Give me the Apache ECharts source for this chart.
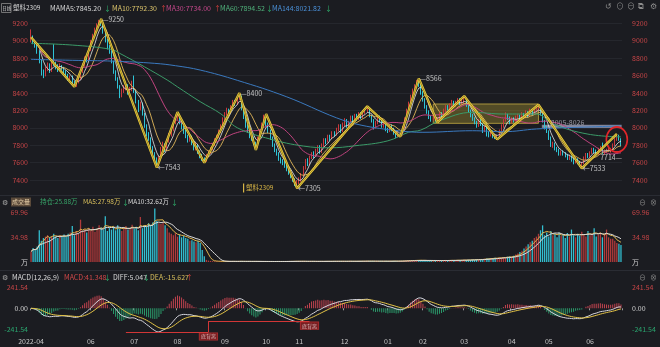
<!DOCTYPE html>
<html>
<head>
<meta charset="utf-8">
<script src="https://cdn.jsdelivr.net/npm/echarts@6/dist/echarts.min.js"></script>
<style>
html,body{margin:0;padding:0;background:#1b1c21;overflow:hidden;}
#chart{width:660px;height:347px;}
</style>
</head>
<body>
<div id="chart"></div>
<script>
// ================= DATA =================
const months = ['2022-04','2022-05','2022-06','2022-07','2022-08','2022-09','2022-10','2022-11','2022-12','2023-01','2023-02','2023-03','2023-04','2023-05','2023-06'];
const monthDays = [10,19,21,21,23,20,16,22,21,17,20,23,18,20,16];
const monthTickLabels = ['2022-04','','06','07','08','09','10','11','12','01','02','03','04','05','06'];

// daily candles: [open, close, low, high]
const candles = [
[9000,9040,8980,9130],[9040,8990,8960,9060],[8990,8950,8920,9010],[8950,8870,8850,8970],[8870,8760,8740,8890],[8760,8640,8600,8780],[8640,8600,8570,8670],[8600,8680,8590,8700],[8680,8720,8650,8750],[8720,8650,8630,8740],
[8660,8720,8640,8760],[8880,8730,8710,8960],[8730,8700,8670,8760],[8700,8660,8640,8730],[8660,8720,8650,8740],[8700,8680,8660,8720],[8680,8640,8620,8700],[8640,8600,8580,8660],[8600,8560,8540,8620],[8560,8580,8530,8600],
[8580,8520,8500,8600],[8520,8480,8470,8540],[8480,8530,8470,8550],[8530,8560,8510,8590],[8560,8640,8550,8660],[8640,8720,8630,8740],[8720,8800,8700,8820],[8800,8780,8750,8830],[8780,8900,8770,8920],[8900,8990,8880,9010],
[8990,9050,8970,9080],[9050,9120,9030,9150],[9120,9180,9100,9200],[9180,9220,9150,9240],[9220,9200,9170,9250],[9200,9100,9080,9210],[9100,9000,8980,9120],[9000,8920,8900,9020],[8920,8880,8850,8950],[8880,8760,8740,8890],
[8760,8640,8620,8770],[8640,8560,8540,8660],[8560,8480,8450,8580],[8480,8380,8340,8490],[8380,8420,8350,8450],[8420,8460,8400,8490],[8460,8480,8430,8520],[8480,8400,8380,8500],[8400,8440,8380,8470],[8440,8500,8420,8540],
[8580,8420,8400,8600],[8420,8300,8280,8430],[8300,8220,8180,8320],[8220,8280,8200,8300],[8280,8160,8140,8290],[8160,8020,8000,8170],[8020,7920,7900,8040],[7920,7880,7850,7950],[7880,7760,7740,7890],[7760,7700,7680,7790],
[7700,7640,7600,7720],[7640,7580,7543,7660],[7580,7660,7570,7680],[7660,7760,7640,7780],[7760,7800,7740,7840],[7800,7740,7720,7820],[7740,7850,7730,7870],[7850,7920,7830,7940],[7920,7980,7900,8010],[7980,8060,7960,8080],
[8060,8120,8040,8150],[8120,8150,8090,8180],[8150,8060,8040,8160],[8060,8000,7980,8080],[8000,7960,7930,8020],[7960,7900,7880,7980],[7900,7860,7830,7920],[7860,7900,7840,7930],[7900,7820,7800,7910],[7820,7760,7740,7840],
[7760,7800,7740,7830],[7800,7720,7700,7810],[7720,7680,7650,7740],[7680,7640,7620,7700],[7640,7620,7598,7660],[7620,7680,7610,7700],[7680,7720,7660,7740],[7720,7760,7700,7780],[7760,7800,7740,7820],[7800,7860,7790,7880],
[7860,7900,7840,7920],[7900,7960,7880,7980],[7960,8020,7940,8040],[8020,8100,8000,8120],[8100,8160,8080,8180],[8160,8200,8140,8230],[8200,8180,8150,8220],[8180,8240,8170,8260],[8240,8300,8220,8320],[8300,8280,8250,8320],
[8280,8340,8260,8360],[8340,8360,8320,8400],[8360,8220,8200,8370],[8220,8120,8100,8240],[8120,8020,8000,8140],[8020,7960,7940,8040],[7960,7900,7880,7980],[7900,7880,7850,7920],[7880,7820,7800,7900],[7820,7780,7744,7840],
[7780,7880,7770,7900],[7880,7960,7860,7980],[7960,8040,7940,8060],[8040,8120,8020,8150],[8130,8040,8020,8158],[8040,7960,7940,8060],[7960,7880,7860,7980],[7880,7800,7780,7900],[7800,7740,7720,7820],[7740,7700,7680,7760],
[7700,7640,7620,7720],[7640,7620,7590,7660],[7620,7600,7570,7640],[7600,7560,7540,7620],[7560,7520,7500,7580],[7520,7480,7460,7540],[7480,7440,7420,7500],[7440,7400,7380,7460],[7400,7360,7330,7420],[7360,7380,7305,7400],
[7380,7400,7350,7430],[7400,7460,7380,7480],[7460,7540,7440,7560],[7540,7620,7520,7640],[7620,7580,7560,7650],[7580,7660,7570,7680],[7660,7700,7640,7720],[7700,7680,7650,7730],[7680,7740,7670,7760],[7740,7780,7720,7800],
[7780,7720,7700,7800],[7720,7800,7710,7820],[7800,7860,7780,7880],[7860,7840,7810,7880],[7840,7900,7830,7920],[7900,7880,7850,7920],[7880,7940,7870,7960],[7940,7920,7900,7960],[7920,7980,7910,8000],[7980,8020,7960,8040],
[8020,7960,7940,8040],[7960,8040,7950,8060],[8040,8080,8020,8110],[8080,8020,8000,8100],[8020,8060,8000,8080],[8060,8120,8050,8140],[8120,8080,8060,8140],[8080,8140,8070,8160],[8140,8100,8080,8160],[8100,8160,8090,8180],
[8160,8120,8100,8180],[8120,8180,8110,8200],[8180,8200,8160,8220],[8200,8220,8180,8246],[8220,8140,8120,8230],[8140,8080,8060,8150],[8080,8000,7980,8100],[8000,8060,7990,8080],[8060,8120,8040,8140],[8120,8080,8060,8140],
[8080,8020,8000,8100],[8020,8060,8000,8080],[8060,7980,7960,8070],[7980,7960,7940,8000],[7960,8020,7950,8040],[8020,7980,7960,8040],[7980,7940,7920,8000],[7940,7900,7880,7960],[7900,7920,7890,7950],[7920,7925,7897,7940],
[7925,8000,7910,8020],[8000,8100,7990,8120],[8100,8200,8080,8220],[8200,8280,8180,8300],[8280,8360,8260,8380],[8360,8420,8340,8450],[8420,8480,8400,8500],[8480,8520,8460,8550],[8520,8500,8470,8566],[8500,8400,8380,8510],
[8400,8320,8300,8420],[8320,8240,8220,8340],[8240,8180,8160,8260],[8180,8120,8100,8200],[8120,8100,8070,8140],[8100,8140,8080,8160],[8140,8090,8070,8150],[8090,8100,8062,8120],[8100,8160,8090,8180],[8160,8140,8120,8180],
[8140,8200,8130,8220],[8200,8240,8180,8260],[8240,8220,8200,8260],[8220,8260,8210,8280],[8260,8300,8240,8320],[8300,8250,8230,8310],[8250,8290,8240,8310],[8290,8320,8270,8340],[8320,8280,8260,8340],[8280,8300,8260,8320],
[8300,8320,8280,8365],[8320,8260,8240,8330],[8260,8200,8180,8270],[8200,8140,8120,8210],[8140,8100,8080,8160],[8100,8060,8040,8120],[8060,8020,8000,8080],[8020,8080,8010,8100],[8080,8040,8020,8100],[8040,7960,7940,8050],
[7960,8000,7950,8020],[8040,7940,7900,8050],[7940,7920,7890,7960],[7920,7960,7900,7980],[7960,7900,7880,7970],[7900,7880,7870,7920],[7880,7900,7867,7920],[7900,7960,7890,7980],[7960,8020,7950,8040],[8020,8080,8000,8100],
[8080,8140,8070,8177],[8140,8120,8090,8160],[8120,8060,8040,8130],[8060,8100,8050,8120],[8100,8080,8060,8120],[8080,8120,8070,8140],[8120,8140,8100,8160],[8140,8100,8080,8150],[8100,8160,8090,8180],[8160,8120,8100,8170],
[8120,8180,8110,8200],[8180,8140,8120,8190],[8140,8200,8130,8220],[8200,8160,8140,8210],[8160,8200,8150,8220],[8200,8220,8180,8240],[8220,8240,8200,8265],[8240,8160,8140,8250],[8160,8080,8060,8170],[8080,8000,7980,8090],
[8000,7960,7940,8020],[7960,7880,7860,7970],[7880,7800,7780,7900],[7800,7820,7770,7840],[7820,7760,7740,7830],[7760,7740,7720,7780],[7740,7700,7680,7760],[7700,7720,7680,7740],[7720,7700,7680,7740],[7700,7680,7660,7720],
[7680,7650,7630,7700],[7650,7670,7630,7690],[7670,7630,7610,7680],[7630,7600,7580,7650],[7600,7640,7590,7660],[7640,7600,7580,7650],[7600,7570,7550,7620],[7570,7590,7533,7610],[7590,7650,7580,7670],[7650,7690,7630,7710],
[7690,7670,7650,7710],[7670,7710,7660,7730],[7710,7750,7700,7770],[7750,7730,7710,7770],[7730,7700,7680,7750],[7700,7750,7690,7770],[7750,7770,7730,7790],[7790,7720,7700,7830],[7720,7720,7690,7750],[7720,7740,7710,7760],
[7740,7747,7720,7770],[7747,7750,7714,7770],[7750,7800,7740,7820],[7800,7860,7790,7880],[7860,7900,7850,7930],[7900,7866,7850,7920],[7866,7800,7790,7880]
];

// volume (万手)
const volumes = [
15,20,18,22,45,30,34,36,38,35,
37,40,36,34,38,36,39,36,40,42,
51,38,44,40,60,44,46,42,48,45,
50,43,47,52,49,46,65,44,48,46,
50,45,52,47,44,49,51,46,48,53,
47,50,45,64,48,52,50,55,53,56,
76,58,55,54,56,52,48,42,40,38,
41,36,39,35,37,34,33,30,31,29,
28,30,27,17,8,3,2,1.5,1.2,1,
0.9,0.8,1,0.7,0.9,0.8,0.6,0.9,1.1,0.8,
0.7,0.9,1.2,0.8,0.6,0.7,0.9,0.8,1,0.7,
0.6,0.8,0.7,0.9,0.6,0.5,0.7,0.8,0.6,0.9,
0.7,0.6,0.8,0.7,0.9,0.8,1,0.9,1.2,1.1,
0.9,0.8,1,0.9,0.7,0.8,0.9,1,0.8,0.7,
0.9,1,0.8,1.1,0.9,0.8,1,1.2,0.9,1,
0.8,1.1,1,0.9,1.2,1,0.8,1.1,0.9,1.3,
1,1.2,1.1,1.4,1.2,1,1.1,0.9,1.2,1,
1.1,0.9,1.3,1,1.2,1.1,1.4,1.2,1,1.3,
1.5,1.8,2,2.2,1.9,2.4,2.1,2.6,2.8,2.3,
1.9,2,1.8,2.2,1.7,1.9,2.1,2.3,2,1.8,
2.2,2.4,2,2.6,2.3,2.1,2.5,2.8,2.4,2.6,
3,2.7,3.2,2.9,3.5,3.1,3.8,3.4,4,3.6,
4.5,5.2,4.8,5.5,5,6,5.6,6.5,6,7,
6.5,7.5,8,7.2,9,10.5,12,14,16,19,
22,25,28,30,34,36,40,45,52,38,
42,36,44,38,40,35,42,37,39,34,
41,36,46,38,35,40,37,43,39,36,
44,38,40,48,36,39,42,35,40,46,
35,33,33,30,27,26,24
];

// long moving averages at sample days [dayIndex, value]
const ma60Points = [[0,8970],[20,8950],[39,8900],[43,8855],[55,8700],[66,8549],[71,8470],[82,8300],[92,8160],[100,8000],[116,7870],[132,7790],[145,7770],[157,7793],[173,7850],[183,7948],[189,7974],[198,8081],[214,8177],[229,8158],[245,8158],[253,8043],[270,7927],[286,7895]];
const ma144Points = [[0,8786],[20,8775],[40,8765],[60,8740],[70,8713],[82,8663],[100,8545],[124,8355],[148,8115],[160,8030],[178,7966],[190,7948],[214,7966],[229,7955],[245,7986],[265,8005],[286,8020]];

// swing (zigzag) pivots [dayIndex, price]
const zigzagPivots = [[0,9040],[21,8470],[34,9250],[61,7543],[71,8180],[84,7598],[101,8400],[109,7744],[114,8158],[129,7305],[163,8246],[179,7897],[188,8566],[197,8062],[210,8365],[226,7867],[246,8265],[267,7533],[284,7930]];
// labelled extremes [dayIndex, price]
const extremeMarks = [[34,9250],[61,7543],[101,8400],[129,7305],[188,8566],[267,7533],[286,7714]];
const extremeKinds = ['high','low','high','low','high','low','lowLeft'];

// drawn zones: [fromDay, toDay, upperPrice, lowerPrice]
const boxZone = [195, 246, 8273, 8051];
const bandZone = [248, 286, 8026, 8005];
const bandText = '8005-8026';
const circleMark = [284, 7865];

// MACD divergence guides [fromDay, toDay, level] and their tags
const divergenceLines = [[46, 86, -278], [86, 135, -150]];
const divergenceTags = [[86, -278, '底背离'], [135, -150, '底背离']];

const volumeTicks = [0, 34.98, 69.96];
const macdTicks = [-241.54, 0, 241.54];

// ================= BUILD =================
const FONT = '"Noto Sans CJK SC","Noto Sans",sans-serif';
const categories = [];
const monthOfIdx = [];
months.forEach((m, k) => {
  for (let d = 0; d < monthDays[k]; d++) { categories.push(m + '#' + (d + 1)); monthOfIdx.push(k); }
});
const N = categories.length;
const isMonthLabel = (idx) => categories[idx].endsWith('#1') && monthTickLabels[monthOfIdx[idx]] !== '';

const closes = candles.map(c => c[1]);
function ma(arr, n) {
  return arr.map((_, i) => {
    const s = Math.max(0, i - n + 1); let sum = 0;
    for (let j = s; j <= i; j++) sum += arr[j];
    return +(sum / (i - s + 1)).toFixed(2);
  });
}
function sparse(points) { const a = new Array(N).fill(null); points.forEach(([i, v]) => { a[i] = v; }); return a; }
function ema(arr, n) { const k = 2 / (n + 1); const out = []; arr.forEach((v, i) => out.push(i === 0 ? v : out[i - 1] + k * (v - out[i - 1]))); return out; }
const e12 = ema(closes, 12), e26 = ema(closes, 26);
const dif = closes.map((_, i) => +(e12[i] - e26[i]).toFixed(3));
const dea = ema(dif, 9).map(v => +v.toFixed(3));
const hist = dif.map((d, i) => +(2 * (d - dea[i])).toFixed(3));

const UP = '#c9383c', DOWN = '#2fc4d6';

const gridL = 30, gridR = 38;
const grids = [
  { left: gridL, right: gridR, top: 23.3, height: 156.7 },
  { left: gridL, right: gridR, top: 207, height: 59.7 },
  { left: gridL, right: gridR, top: 283, height: 52 }
];
const xAxes = [0, 1, 2].map(g => ({
  type: 'category', gridIndex: g, data: categories, boundaryGap: true,
  axisLine: { show: false },
  axisTick: g === 2 ? { show: true, interval: (i) => isMonthLabel(i), length: 2, lineStyle: { color: '#9a9a9a' } } : { show: false },
  axisLabel: g === 2 ? {
    show: true, interval: (i) => isMonthLabel(i), margin: 3, fontSize: 7, color: '#c4c4c4', fontFamily: FONT,
    formatter: (v) => monthTickLabels[months.indexOf(v.split('#')[0])]
  } : { show: false },
  splitLine: { show: false }
}));

const priceLabelColor = '#c24446';
const yAxes = [
  { gridIndex: 0, position: 'left', type: 'value', min: 7400, max: 9200, interval: 200,
    axisLine: { show: false }, axisTick: { show: false },
    axisLabel: { color: priceLabelColor, fontSize: 7, margin: 2, fontFamily: FONT, formatter: v => String(v) },
    splitLine: { show: true, lineStyle: { color: '#25272d', width: 1 } } },
  { gridIndex: 0, position: 'right', type: 'value', min: 7400, max: 9200, interval: 200,
    axisLine: { show: false }, axisTick: { show: false },
    axisLabel: { color: priceLabelColor, fontSize: 7, margin: 10, fontFamily: FONT, formatter: v => String(v) },
    splitLine: { show: false } },
  { gridIndex: 1, position: 'left', type: 'value', min: -6.7, max: 78.05,
    axisLine: { show: false }, axisTick: { show: false, customValues: volumeTicks },
    axisLabel: { customValues: volumeTicks, fontSize: 7, margin: 2, fontFamily: FONT,
      formatter: v => Math.abs(v) < 1e-6 ? '万' : v.toFixed(2),
      color: v => Math.abs(v) < 1e-6 ? '#d0d0d0' : '#c24446' },
    splitLine: { show: false } },
  { gridIndex: 1, position: 'right', type: 'value', min: -6.7, max: 78.05,
    axisLine: { show: false }, axisTick: { show: false, customValues: volumeTicks },
    axisLabel: { customValues: volumeTicks, fontSize: 7, margin: 10, fontFamily: FONT,
      formatter: v => Math.abs(v) < 1e-6 ? '万' : v.toFixed(2),
      color: v => Math.abs(v) < 1e-6 ? '#d0d0d0' : '#c24446' },
    splitLine: { show: false } },
  { gridIndex: 2, position: 'left', type: 'value', min: -313, max: 296.6,
    axisLine: { show: false }, axisTick: { show: false, customValues: macdTicks },
    axisLabel: { customValues: macdTicks, fontSize: 7, margin: 2, fontFamily: FONT,
      formatter: v => v.toFixed(2),
      color: v => v > 1 ? '#c24446' : (v < -1 ? '#2aa56f' : '#d0d0d0') },
    splitLine: { show: false } },
  { gridIndex: 2, position: 'right', type: 'value', min: -313, max: 296.6,
    axisLine: { show: false }, axisTick: { show: false, customValues: macdTicks },
    axisLabel: { customValues: macdTicks, fontSize: 7, margin: 10, fontFamily: FONT,
      formatter: v => v.toFixed(2),
      color: v => v > 1 ? '#c24446' : (v < -1 ? '#2aa56f' : '#d0d0d0') },
    splitLine: { show: false } }
];

const lineBase = (name, data, color, xi, yi, extra) => Object.assign({
  name, type: 'line', data, xAxisIndex: xi, yAxisIndex: yi, symbol: 'none', showSymbol: false,
  lineStyle: { color, width: 1 }, silent: true, clip: false, z: 3
}, extra || {});

const zig = sparse(zigzagPivots);

const series = [
  {
    name: 'K', type: 'candlestick', data: candles, xAxisIndex: 0, yAxisIndex: 0, clip: false, barMaxWidth: 1.6,
    itemStyle: { color: UP, color0: DOWN, borderColor: UP, borderColor0: DOWN, borderWidth: 1 },
    markArea: {
      silent: true,
      data: [
        [{ xAxis: categories[boxZone[0]], yAxis: boxZone[2], itemStyle: { color: 'rgba(150,132,45,0.45)', borderColor: '#a8943c', borderWidth: 1 } },
         { xAxis: categories[boxZone[1]], yAxis: boxZone[3] }],
        [{ xAxis: categories[bandZone[0]], yAxis: bandZone[2], itemStyle: { color: 'rgba(175,178,205,0.55)', borderColor: 'rgba(175,178,205,0.6)', borderWidth: 1.5 } },
         { xAxis: categories[bandZone[1]], yAxis: bandZone[3] }]
      ]
    },
    markPoint: {
      silent: true,
      data: [{ coord: [categories[circleMark[0]], circleMark[1]], symbol: 'circle', symbolSize: [21, 25],
        itemStyle: { color: 'rgba(0,0,0,0)', borderColor: '#e0262a', borderWidth: 1.8 }, label: { show: false } }]
    },
    z: 2
  },
  lineBase('MA5', ma(closes, 5), '#e8e8e8', 0, 0, { lineStyle: { color: '#e8e8e8', width: 0.8 } }),
  lineBase('MA10', ma(closes, 10), '#e2b85a', 0, 0, { lineStyle: { color: '#e2b85a', width: 0.9 } }),
  lineBase('MA30', ma(closes, 30), '#c0437f', 0, 0),
  lineBase('MA60', sparse(ma60Points), '#3b9a68', 0, 0, { connectNulls: true, smooth: 0.4 }),
  lineBase('MA144', sparse(ma144Points), '#3a79bf', 0, 0, { connectNulls: true, smooth: 0.4 }),
  lineBase('zigzag', zig, '#f2d23c', 0, 0, { connectNulls: true, lineStyle: { color: '#f2d23c', width: 2.3 }, z: 5 }),
  lineBase('zigzagCore', zig, '#55481c', 0, 0, { connectNulls: true, lineStyle: { color: '#6a5a1e', width: 0.6 }, z: 6 }),
  {
    name: 'marks', type: 'scatter', xAxisIndex: 0, yAxisIndex: 0, symbolSize: 0, clip: false, silent: true, z: 7,
    data: extremeMarks.map(([i, v], k) => ({
      value: [i, v],
      label: {
        show: true, fontSize: 7, color: '#e6e6e6', fontFamily: FONT,
        position: extremeKinds[k] === 'lowLeft' ? 'left' : 'right', distance: 1,
        offset: extremeKinds[k] === 'lowLeft' ? [2, 5] : [0, 0],
        formatter: extremeKinds[k] === 'high' ? '—' + v : (extremeKinds[k] === 'low' ? '←' + v : v + '—')
      }
    })).concat([{
      value: [bandZone[0] + 4, bandZone[2] + 40],
      label: { show: true, fontSize: 7, color: '#b4b4c0', position: 'right', distance: 0, fontFamily: FONT, formatter: bandText }
    }])
  },
  {
    name: 'VOL', type: 'bar', data: volumes, xAxisIndex: 1, yAxisIndex: 2, barWidth: '62%', clip: false, silent: true,
    itemStyle: { color: (p) => candles[p.dataIndex][1] >= candles[p.dataIndex][0] ? '#b13a3b' : '#33bfd1' }
  },
  lineBase('VMA5', ma(volumes, 5), '#e0b54c', 1, 2),
  lineBase('VMA10', ma(volumes, 10), '#dcdcdc', 1, 2),
  {
    name: 'MACD', type: 'bar', data: hist, xAxisIndex: 2, yAxisIndex: 4, barWidth: 1, clip: false, silent: true,
    itemStyle: { color: (p) => p.value >= 0 ? '#c2434f' : '#2b9a6b' }
  },
  lineBase('DIFF', dif, '#d6d6de', 2, 4, {
    markLine: {
      silent: true, symbol: 'none', label: { show: false },
      lineStyle: { color: '#d23636', width: 1, type: 'solid' },
      data: [
        [{ coord: [categories[divergenceLines[0][0]], divergenceLines[0][2]] }, { coord: [categories[divergenceLines[0][1]], divergenceLines[0][2]] }],
        [{ coord: [categories[divergenceLines[0][1]], divergenceLines[0][2]] }, { coord: [categories[divergenceLines[1][0]], divergenceLines[1][2]] }],
        [{ coord: [categories[divergenceLines[1][0]], divergenceLines[1][2]] }, { coord: [categories[divergenceLines[1][1]], divergenceLines[1][2]] }]
      ]
    }
  }),
  lineBase('DEA', dea, '#e2c246', 2, 4),
  {
    name: 'divTags', type: 'scatter', xAxisIndex: 2, yAxisIndex: 4, symbolSize: 0, clip: false, silent: true, z: 8,
    data: divergenceTags.map(([i, v, t]) => ({
      value: [i, v],
      label: { show: true, position: 'bottom', distance: 1, formatter: t, fontSize: 5, color: '#f0d0d0', fontFamily: FONT,
        backgroundColor: '#8c1f22', borderColor: '#d23636', borderWidth: 0.6, padding: [1, 1.5] }
    }))
  }
];

// ---------- header / decorations ----------
function txt(x, y, text, color, size) {
  return { type: 'text', x, y, silent: true, z: 100,
    style: { text, fill: color, fontSize: size || 7, fontFamily: FONT, verticalAlign: 'middle' } };
}
const GREEN = '#2fb36e', RED = '#e0403f';
const graphic = [
  { type: 'rect', shape: { x: 1.5, y: 3.5, width: 9.5, height: 9 }, style: { fill: 'none', stroke: '#8a8a8a', lineWidth: 0.8 }, silent: true },
  txt(2.3, 8, '日线', '#d0d0d0', 4.5),
  txt(13, 8, '塑料2309', '#d6d6d6', 6.5),
  txt(50, 8, 'MA', '#d6d6d6', 7),
  txt(60, 8, 'MA5:7845.20', '#d6d6d6', 7),
  txt(104, 8, '↓', GREEN, 7),
  txt(112, 8, 'MA10:7792.30', '#d9c26a', 7),
  txt(160, 8, '↑', RED, 7),
  txt(166, 8, 'MA30:7734.00', '#c4478a', 7),
  txt(214, 8, '↑', RED, 7),
  txt(220, 8, 'MA60:7894.52', '#4fb07a', 7),
  txt(266, 8, '↓', GREEN, 7),
  txt(272, 8, 'MA144:8021.82', '#4a8fd6', 7),
  txt(325, 8, '↓', GREEN, 7),
  txt(605, 6, '↺', '#8c8c8c', 8),
  txt(616, 6, '⊙', '#8c8c8c', 8),
  txt(627, 6, '⊖', '#8c8c8c', 8),
  txt(638, 6, '⧉', '#8c8c8c', 8),
  txt(650, 6, '⚙', '#8c8c8c', 8),
  { type: 'rect', shape: { x: 243, y: 183.5, width: 1.2, height: 9 }, style: { fill: '#d8b545' }, silent: true },
  txt(246, 188, '塑料2309', '#d8b545', 6.5),
  { type: 'rect', shape: { x: 0, y: 195, width: 660, height: 1 }, style: { fill: '#2a2c33' }, silent: true },
  { type: 'rect', shape: { x: 0, y: 270, width: 660, height: 1 }, style: { fill: '#2a2c33' }, silent: true },
  txt(2, 202, '⚙', '#a8a8a8', 7),
  { type: 'rect', shape: { x: 11, y: 197.5, width: 20, height: 9 }, style: { fill: '#5b4a3a' }, silent: true },
  txt(12, 202, '成交量', '#e6cfa8', 6),
  txt(40, 202, '持仓:25.88万', '#38a76a', 6.5),
  txt(83, 202, 'MA5:27.98万', '#d8bf5c', 6.5),
  txt(122, 202, '↓', GREEN, 7),
  txt(128, 202, 'MA10:32.62万', '#d8d8d8', 6.5),
  txt(171, 202, '↓', GREEN, 7),
  txt(639, 202.5, '⊖', '#8c8c8c', 7),
  txt(650, 202.5, '⊗', '#8c8c8c', 7),
  txt(2, 277, '⚙', '#a8a8a8', 7),
  txt(12, 277, 'MACD(12,26,9)', '#d8d8d8', 7),
  txt(64, 277, 'MACD:41.348', '#d04848', 7),
  txt(104, 277, '↓', GREEN, 7),
  txt(113, 277, 'DIFF:5.047', '#d8d8d8', 7),
  txt(143, 277, '↓', GREEN, 7),
  txt(150, 277, 'DEA:-15.627', '#d8bf5c', 7),
  txt(186, 277, '↑', RED, 7),
  txt(639, 277.5, '⊖', '#8c8c8c', 7),
  txt(650, 277.5, '⊗', '#8c8c8c', 7)
];

const chart = echarts.init(document.getElementById('chart'), null, { renderer: 'canvas', width: 660, height: 347 });
chart.setOption({
  backgroundColor: '#1b1c21',
  animation: false,
  textStyle: { fontFamily: FONT },
  grid: grids,
  xAxis: xAxes,
  yAxis: yAxes,
  series,
  graphic
});
</script>
</body>
</html>
